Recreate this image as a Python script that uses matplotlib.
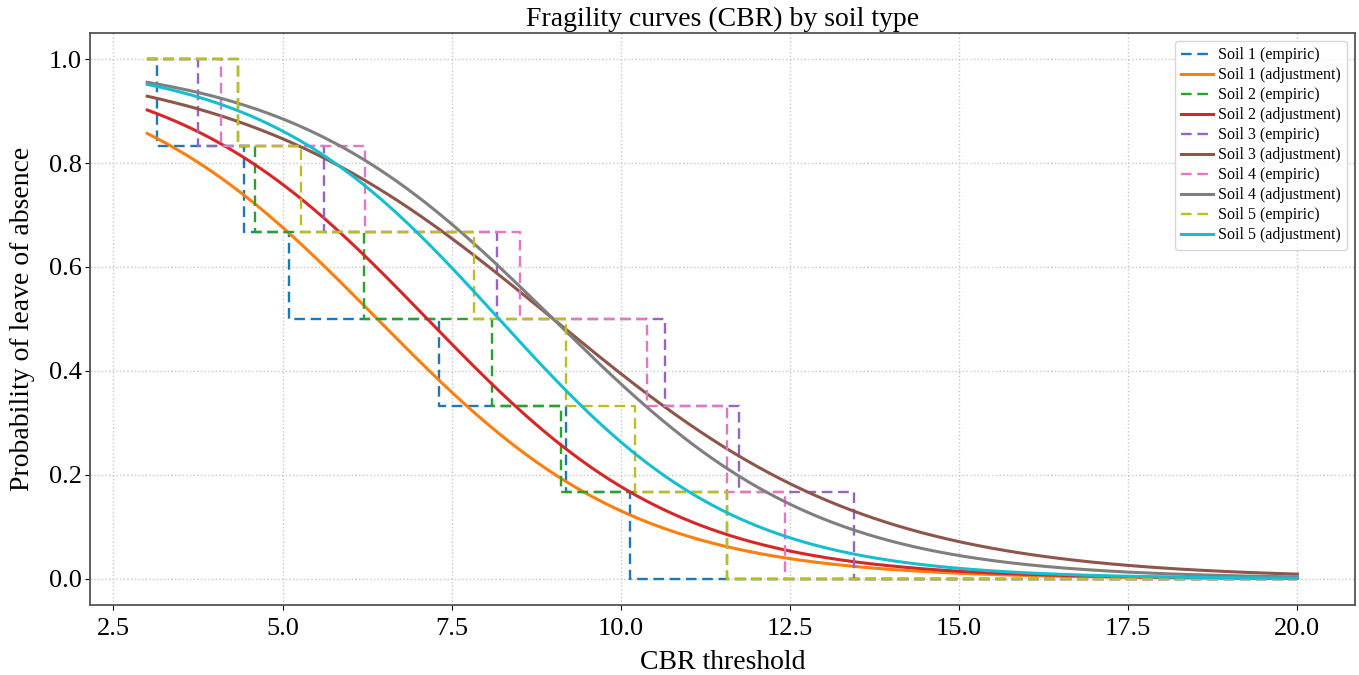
import numpy as np
import matplotlib.pyplot as plt

plt.rcParams['font.family'] = ['Liberation Serif', 'DejaVu Serif']

# Umbrales CBR a los que falla cada muestra (6 muestras por suelo)
soil_names = ['Soil 1', 'Soil 2', 'Soil 3', 'Soil 4', 'Soil 5']
fail_1 = [3.15, 4.43, 5.10, 7.31, 9.19, 10.13]
fail_2 = [4.34, 4.60, 6.21, 8.09, 9.11, 11.57]
fail_3 = [3.75, 5.62, 8.17, 10.65, 11.74, 13.45]
fail_4 = [4.09, 6.22, 8.51, 10.39, 11.57, 12.43]
fail_5 = [4.34, 5.28, 7.83, 9.19, 10.21, 11.57]
fail_values = [fail_1, fail_2, fail_3, fail_4, fail_5]

# Parámetros del ajuste logístico: mediana y escala
fit_median = [6.40, 7.14, 9.00, 9.00, 8.20]
fit_scale = [1.90, 1.865, 2.34, 1.96, 1.75]

x_min, x_max = 3.0, 20.0
x = np.linspace(x_min, x_max, 500)

fig = plt.figure(figsize=(13.59, 6.75), dpi=100)
ax = fig.add_axes([0.066, 0.104, 0.931, 0.847])

for name, fails, mu, s in zip(soil_names, fail_values, fit_median, fit_scale):
    fails = np.sort(fails)
    # Probabilidad empírica: fracción de muestras que siguen en pie
    xs = np.concatenate([[x_min], fails, [x_max]])
    ys = np.array([np.mean(fails > v) for v in xs[:-1]] + [0.0])
    ys[0] = 1.0
    ax.step(xs, ys, where='post', linestyle='--', dashes=(4.5, 2.4), lw=1.7,
            label=f'{name} (empiric)')
    y_fit = 1.0 / (1.0 + np.exp((x - mu) / s))
    ax.plot(x, y_fit, lw=2.2, label=f'{name} (adjustment)')

ax.set_title('Fragility curves (CBR) by soil type', fontsize=20, pad=5)
ax.set_xlabel('CBR threshold', fontsize=20, labelpad=7)
ax.set_ylabel('Probability of leave of absence', fontsize=20, labelpad=10)
ax.tick_params(axis='x', labelsize=19, pad=6)
ax.tick_params(axis='y', labelsize=19, pad=2)
ax.grid(True, linestyle=':', color='#c8c8c8', lw=1)
for sp in ax.spines.values():
    sp.set_color('#555555')
    sp.set_linewidth(1.3)
ax.legend(loc='upper right', fontsize=11.5, handlelength=2, labelspacing=0.25,
          borderpad=0.4, handletextpad=0.3)

fig.savefig('out.png', dpi=100)
